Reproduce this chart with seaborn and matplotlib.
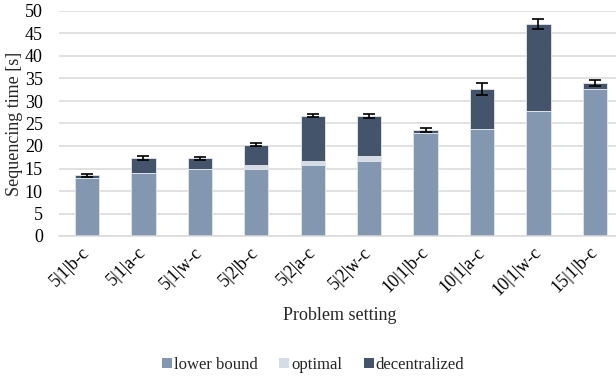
import matplotlib
matplotlib.use("Agg")
import matplotlib.pyplot as plt
from matplotlib.patches import Patch
import seaborn as sns
import pandas as pd

# Problem settings (agents | machines | scenario)
settings = ["5|1|b-c", "5|1|a-c", "5|1|w-c", "5|2|b-c", "5|2|a-c",
            "5|2|w-c", "10|1|b-c", "10|1|a-c", "10|1|w-c", "15|1|b-c"]

# Sequencing times in seconds
lower_bound = [12.9, 13.9, 14.8, 15.0, 15.8, 16.7, 22.8, 23.8, 27.8, 32.7]
optimal = [13.0, 13.9, 14.8, 15.8, 16.7, 17.8, 22.8, 23.8, 27.8, 32.7]
decentralized = [13.45, 17.4, 17.25, 20.3, 26.75, 26.65, 23.55, 32.7, 47.05, 34.0]
decentralized_err = [0.35, 0.4, 0.35, 0.35, 0.35, 0.4, 0.35, 1.35, 1.15, 0.7]

series_labels = ["lower bound", "optimal", "decentralized"]
series_colors = ["#8497B0", "#D6DCE5", "#44546A"]
y_ticks = [0, 5, 10, 15, 20, 25, 30, 35, 40, 45, 50]

df = pd.DataFrame({
    "setting": settings,
    "lower bound": lower_bound,
    "optimal": optimal,
    "decentralized": decentralized,
})

FS = 13
sns.set_theme(style="white")
plt.rcParams["font.family"] = ["Liberation Serif", "DejaVu Serif"]
plt.rcParams["font.size"] = FS

fig = plt.figure(figsize=(6.16, 3.76), dpi=100)
W, H = 616, 376
left, right, top, bottom = 58.8, 623.0, 11.0, 236.0
ax = fig.add_axes([left / W, 1 - bottom / H, (right - left) / W, (bottom - top) / H])

# stacked bars drawn back to front: totals first, then the lower layers on top
for col, color in zip(["decentralized", "optimal", "lower bound"], series_colors[::-1]):
    sns.barplot(data=df, x="setting", y=col, order=settings, color=color,
                saturation=1, width=0.43, edgecolor="#E4E8EE", linewidth=0.6,
                ax=ax, zorder=2)

ax.errorbar(x=list(range(len(settings))), y=decentralized, yerr=decentralized_err,
            fmt="none", ecolor="black", elinewidth=1.2, capsize=4, capthick=1.2,
            zorder=3)

ax.set_ylim(0, 50)
ax.set_yticks(y_ticks)
ax.set_xlim(-0.5, len(settings) - 0.5)
ax.yaxis.grid(True, color="#D9D9D9", linewidth=1.1, zorder=0)
ax.set_axisbelow(True)
for side in ["top", "right", "left"]:
    ax.spines[side].set_visible(False)
ax.spines["bottom"].set_color("#D9D9D9")
ax.spines["bottom"].set_linewidth(1.1)

ax.tick_params(axis="y", length=0, pad=11.5, labelsize=FS, labelcolor="#000000")
ax.tick_params(axis="x", length=0, pad=10, labelsize=FS, labelcolor="#000000")
for lab in ax.get_xticklabels():
    lab.set_rotation(45)
    lab.set_ha("right")
    lab.set_va("center")
    lab.set_rotation_mode("anchor")

ax.set_ylabel("Sequencing time [s]", fontsize=FS, va="center")
ax.yaxis.set_label_coords((15 - left) / (right - left), 0.5)
ax.set_xlabel("Problem setting", fontsize=FS, va="center")
ax.xaxis.set_label_coords((340 - left) / (right - left), (bottom - 315) / (bottom - top))

handles = [Patch(facecolor=c, edgecolor="none") for c in series_colors]
fig.legend(handles, series_labels, loc="center", bbox_to_anchor=(313 / W, 1 - 365 / H),
           ncol=3, frameon=False, fontsize=12, handlelength=0.6, handleheight=0.6,
           handletextpad=0.1, columnspacing=1.3)

fig.savefig("out.png", dpi=100)
